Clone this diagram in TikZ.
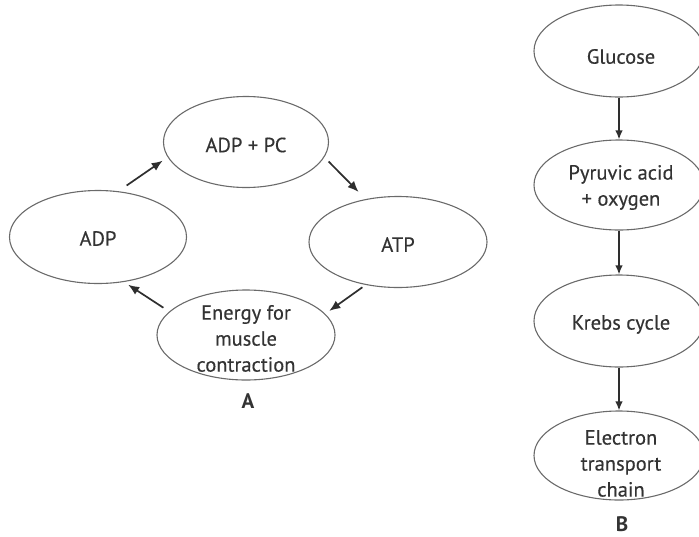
\documentclass[tikz,border=0pt]{standalone}
\usepackage{fontspec}
\setmainfont{PT Sans}
\newfontfamily\bodyfont[FakeBold=0.35]{PT Sans}
\usetikzlibrary{shapes.geometric,arrows.meta}
\definecolor{ink}{HTML}{333333}
\definecolor{rim}{HTML}{6A6A6A}
\definecolor{arrink}{HTML}{2E2E2E}
\begin{document}
\begin{tikzpicture}[x=1pt,y=-1pt,
  ell/.style 2 args={draw=rim, line width=1.1pt, ellipse, inner sep=0pt, minimum width=#1, minimum height=#2},
  txt/.style={text=ink, font=\bodyfont\fontsize{20.5}{26}\selectfont, align=center, inner sep=0pt},
  tag/.style={text=ink, font=\fontsize{21}{24}\selectfont\bfseries, inner sep=0pt},
  arr/.style={draw=arrink, line width=1.7pt, -{Latex[length=11pt,width=9pt]}},
  varr/.style={draw=arrink, line width=1.4pt, -{Latex[length=9pt,width=7.5pt]}}]
\useasboundingbox (0,0) rectangle (699,536);
% cycle A
\node[ell={165pt}{91pt}] (adppc) at (246,142) {};
\node[txt] at (246,145) {ADP + PC};
\node[ell={177pt}{93pt}] (adp) at (98,237) {};
\node[txt] at (98,238.5) {ADP};
\node[ell={178pt}{91pt}] (atp) at (398,242) {};
\node[txt] at (398,244.5) {ATP};
\node[ell={178pt}{90pt}] (energy) at (246,335) {};
\node[txt] at (246,338.5) {Energy for\\muscle\\contraction};
\node[tag] (labA) at (248,401.5) {A};
\draw[arr, shorten <=10pt, shorten >=6pt] (adp.66) -- (adppc.191);
\draw[arr, shorten <=6pt, shorten >=10pt] (adppc.-11) -- (atp.127);
\draw[arr, shorten <=4pt, shorten >=5pt] (atp.233) -- (energy.15);
\draw[arr, shorten <=7pt, shorten >=5pt] (energy.163) -- (adp.-60);
% chain B
\node[ell={170pt}{92pt}] (glu) at (619,51) {};
\node[txt] at (621,56.5) {Glucose};
\node[ell={170pt}{90pt}] (pyr) at (619,185) {};
\node[txt] at (621,187.5) {Pyruvic acid\\+ oxygen};
\node[ell={170pt}{92pt}] (krebs) at (619,321) {};
\node[txt] at (621,324.5) {Krebs cycle};
\node[ell={170pt}{89pt}] (etc) at (619,455.5) {};
\node[txt] at (621,463.5) {Electron\\transport\\chain};
\node[tag] (labB) at (622,524) {B};
\draw[varr] (glu) -- (pyr);
\draw[varr] (pyr) -- (krebs);
\draw[varr] (krebs) -- (etc);
\end{tikzpicture}
\end{document}
